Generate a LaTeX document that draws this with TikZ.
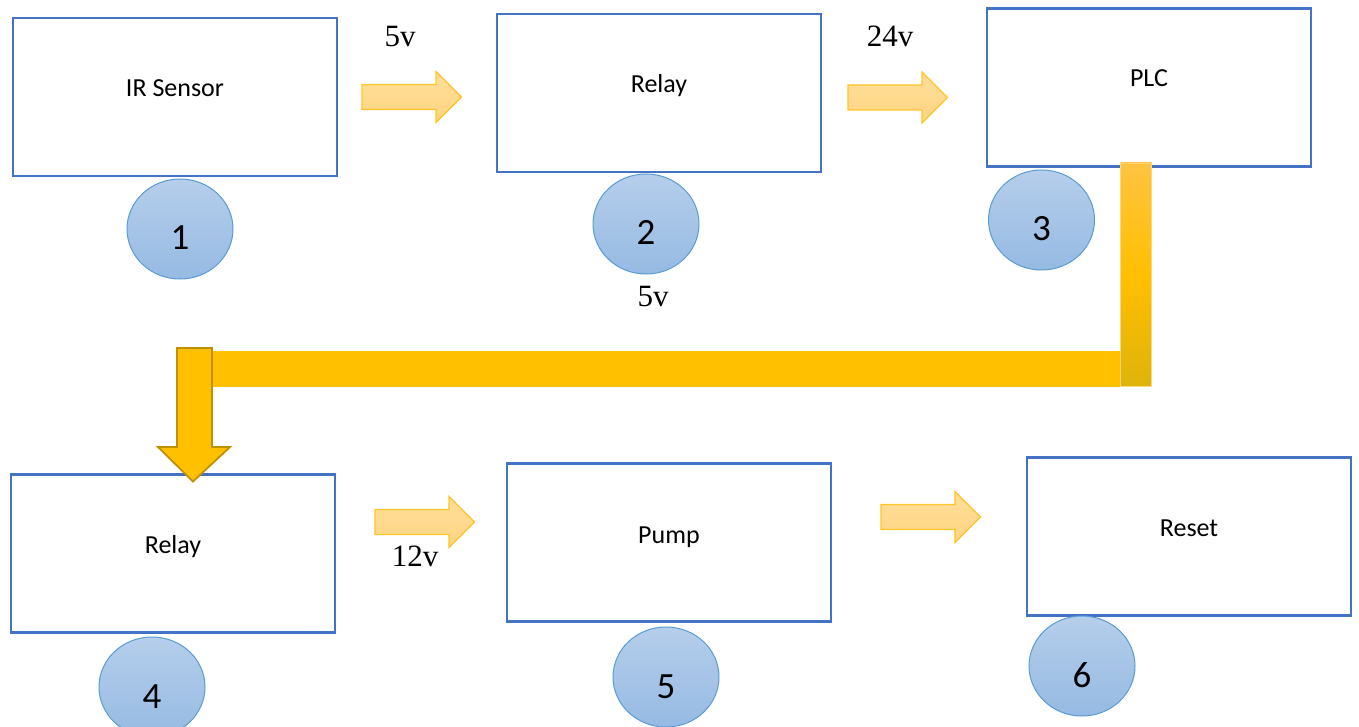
\documentclass[tikz,border=0pt]{standalone}
\usepackage{fontspec}
\setmainfont{Carlito}
\newfontfamily\voltfont{Liberation Serif}
\usetikzlibrary{shapes.geometric,calc}

\definecolor{boxblue}{RGB}{68,114,196}
\definecolor{circedge}{RGB}{91,155,213}
\definecolor{circtop}{RGB}{181,206,235}
\definecolor{circbot}{RGB}{150,186,227}
\definecolor{arrtop}{RGB}{255,222,155}
\definecolor{arrbot}{RGB}{255,212,128}
\definecolor{arredge}{RGB}{255,196,40}
\definecolor{gold}{RGB}{255,192,0}
\definecolor{golddark}{RGB}{191,144,0}
\definecolor{goldlight}{RGB}{255,195,65}
\definecolor{goldlow}{RGB}{222,180,10}

\tikzset{
  stagebox/.style={draw=boxblue, line width=2.5pt, fill=white, minimum width=324pt, minimum height=158pt, inner sep=0pt},
  stagetext/.style={anchor=base, font=\fontsize{26}{30}\selectfont, text=black},
  stepdisc/.style={ellipse, draw=circedge, line width=1pt, top color=circtop, bottom color=circbot, minimum width=106pt, minimum height=100pt, inner sep=0pt},
  stepnum/.style={anchor=base, font=\fontsize{37}{40}\selectfont, text=black},
  volt/.style={anchor=base, font=\voltfont\fontsize{31}{34}\selectfont, text=black},
  flowarrow/.style={draw=arredge, line width=1.3pt, top color=arrtop, bottom color=arrbot, line join=miter},
  rightarrow/.pic={
    \path[flowarrow] (0,-12.5) -- (74,-12.5) -- (74,-25.5) -- (99.5,0) -- (74,25.5) -- (74,12.5) -- (0,12.5) -- cycle;
  }
}

\begin{document}
\begin{tikzpicture}[x=1pt,y=-1pt]
\useasboundingbox (0,0) rectangle (1359,727);
\clip (0,0) rectangle (1359,727);

% stage boxes
\node[stagebox] (b1) at (175,97) {};
\node[stagebox] (b2) at (659,93) {};
\node[stagebox] (b3) at (1149,87.5) {};
\node[stagebox] (b4) at (173,553.5) {};
\node[stagebox] (b5) at (669,542.5) {};
\node[stagebox] (b6) at (1189,536.5) {};

\node[stagetext] (t1) at (175,97) {IR Sensor};
\node[stagetext] (t2) at (659,93) {Relay};
\node[stagetext] (t3) at (1149,87) {PLC};
\node[stagetext] (t4) at (173,553) {Relay};
\node[stagetext] (t5) at (669,543) {Pump};
\node[stagetext] (t6) at (1189,536) {Reset};

% step markers
\node[stepdisc] (c1) at (180,229) {};
\node[stepdisc] (c2) at (646,224) {};
\node[stepdisc] (c3) at (1041.5,220) {};
\node[stepdisc] (c4) at (152,687) {};
\node[stepdisc] (c5) at (666,677) {};
\node[stepdisc] (c6) at (1082,666) {};

\node[stepnum] (n1) at ($(c1)+(0,21)$) {1};
\node[stepnum] (n2) at ($(c2)+(0,20.5)$) {2};
\node[stepnum] (n3) at ($(c3)+(0,21)$) {3};
\node[stepnum] (n4) at ($(c4)+(0,21)$) {4};
\node[stepnum] (n5) at ($(c5)+(0,21)$) {5};
\node[stepnum] (n6) at ($(c6)+(0,21)$) {6};

% signal arrows between stages
\pic at (362,97) {rightarrow};
\pic at (848,97.5) {rightarrow};
\pic at (375,522) {rightarrow};
\pic at (881,517) {rightarrow};

% voltage labels
\node[volt] (v1) at (400,47) {5v};
\node[volt] (v2) at (890,47) {24v};
\node[volt] (v3) at (653,306) {5v};
\node[volt] (v4) at (415,566) {12v};

% elbow link from the PLC back down to the second relay
\fill[gold] (205,350.5) rectangle (1121,386.5);
\path[draw=goldlight!70!white, line width=0.8pt, shading=axis, top color=goldlight, bottom color=goldlow, middle color=gold]
  (1120.5,163) rectangle (1151.5,386);
\path[fill=gold, draw=golddark, line width=1.8pt, line join=miter]
  (177,348) -- (212,348) -- (212,447) -- (230,447) -- (193,481.5) -- (158,447) -- (177,447) -- cycle;
\end{tikzpicture}
\end{document}
